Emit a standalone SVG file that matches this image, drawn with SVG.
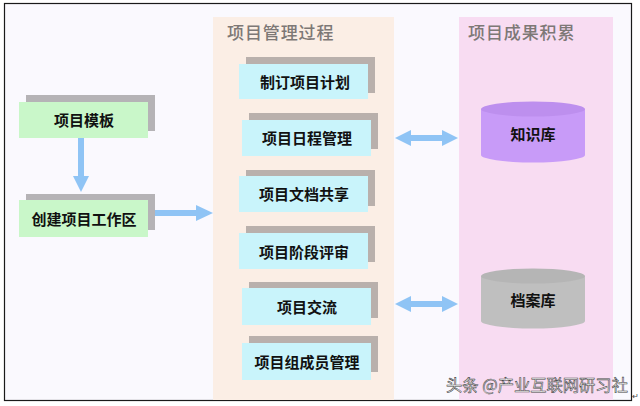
<svg xmlns="http://www.w3.org/2000/svg" width="640" height="406" viewBox="0 0 640 406">
<style>
text{font-family:"Noto Sans CJK SC","Liberation Sans",sans-serif;text-anchor:middle}
.lbl{font-size:15px;font-weight:700;fill:#111}
.ttl{font-size:17px;fill:#7d7876;font-weight:500;text-anchor:start;letter-spacing:.9px}
.sh{fill:#b9b0ac}
.sg{fill:#b5b3b6}
.g{fill:#c9f7c9}
.b{fill:#c9f4fb}
.arr{fill:#8fc4f5}
</style>
<rect width="640" height="406" fill="#fff"/>
<rect id="frame" x="4.5" y="3.5" width="627" height="397" fill="#faf9fe" stroke="#1a1a1a" stroke-width="1.2"/>
<g id="panel-process"><rect x="213" y="17" width="181" height="383" fill="#fbeee5"/><text class="ttl" x="227" y="39">项目管理过程</text></g>
<g id="panel-results"><rect x="459" y="17" width="154" height="383" fill="#f8dcf2"/><text class="ttl" x="468" y="39">项目成果积累</text></g>
<g id="connectors">
<path class="arr" d="M78 138h6v38h5l-8 16-8-16h5z"/>
<path class="arr" d="M150 210h46v-5l17 8-17 8v-5h-46z"/>
<path class="arr" d="M395 138l16-8v5h31v-5l16 8-16 8v-5h-31v5z"/>
<path class="arr" d="M395 304l16-8v5h31v-5l16 8-16 8v-5h-31v5z"/>
</g>
<g id="n-template"><rect class="sg" x="26" y="95" width="129" height="36"/><rect class="g" x="19" y="102" width="129" height="36"/><text class="lbl" x="84" y="126">项目模板</text></g>
<g id="n-workspace"><rect class="sg" x="26" y="194" width="129" height="36"/><rect class="g" x="19" y="200" width="129" height="37"/><text class="lbl" x="84" y="225">创建项目工作区</text></g>
<g id="n-plan"><rect class="sh" x="246" y="57" width="129" height="36"/><rect class="b" x="239" y="64" width="129" height="35"/><text class="lbl" x="305" y="88">制订项目计划</text></g>
<g id="n-schedule"><rect class="sh" x="249" y="113" width="129" height="36"/><rect class="b" x="242" y="120" width="129" height="36"/><text class="lbl" x="307" y="144">项目日程管理</text></g>
<g id="n-docs"><rect class="sh" x="246" y="170" width="129" height="36"/><rect class="b" x="239" y="176" width="129" height="36"/><text class="lbl" x="304" y="200">项目文档共享</text></g>
<g id="n-review"><rect class="sh" x="246" y="226" width="129" height="36"/><rect class="b" x="239" y="233" width="129" height="36"/><text class="lbl" x="304" y="258">项目阶段评审</text></g>
<g id="n-comm"><rect class="sh" x="249" y="282" width="129" height="36"/><rect class="b" x="242" y="288" width="129" height="37"/><text class="lbl" x="307" y="313">项目交流</text></g>
<g id="n-members"><rect class="sh" x="249" y="336" width="129" height="36"/><rect class="b" x="242" y="343" width="129" height="37"/><text class="lbl" x="307" y="368">项目组成员管理</text></g>
<g id="n-knowledge"><path d="M481 109v46a52 7.5 0 0 0 104 0v-46z" fill="#c89bf8"/><ellipse cx="533" cy="109" rx="52" ry="7.5" fill="#bd8fee"/><text class="lbl" x="533" y="140">知识库</text></g>
<g id="n-archive"><path d="M481 276v45a52 7.5 0 0 0 104 0v-45z" fill="#bfbfbf"/><ellipse cx="533" cy="276" rx="52" ry="7.5" fill="#b5b5b5"/><text class="lbl" x="533" y="306">档案库</text></g>
<g id="watermark"><text x="537" y="391" font-size="16.3" fill="#f4f4f4" stroke="#444" stroke-width=".55">头条 @产业互联网研习社</text><text x="635" y="399" font-size="8" fill="#444">↵</text></g>
</svg>
